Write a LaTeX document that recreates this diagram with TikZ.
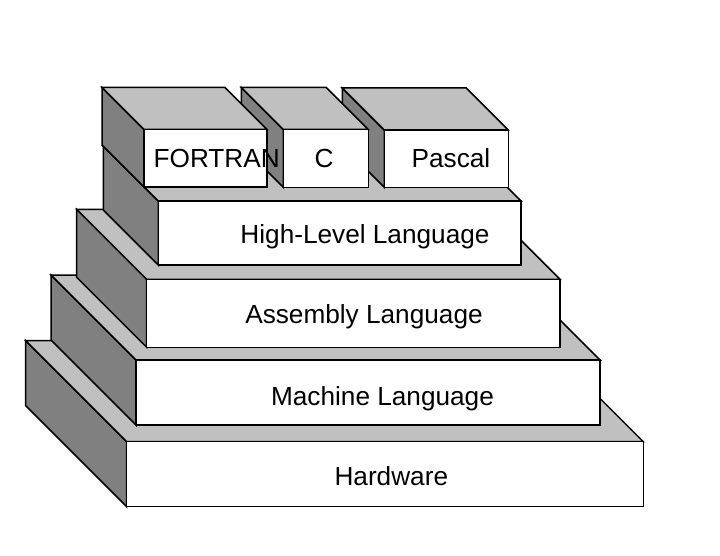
\documentclass[tikz,border=0pt]{standalone}
\usepackage{fontspec}
\setmainfont{Liberation Sans}
\definecolor{sidegray}{RGB}{128,128,128}
\definecolor{topgray}{RGB}{192,192,192}
\tikzset{
  side/.style={fill=sidegray,draw=black},
  lid/.style={fill=topgray,draw=black},
  face/.style={fill=white,draw=black},
  lbl/.style={font=\fontsize{26.2}{30}\selectfont,anchor=base,inner sep=0pt}
}

\begin{document}
\begin{tikzpicture}[x=1pt,y=-1pt,line width=1.5pt]
\useasboundingbox (0,0) rectangle (720,556);
% front face left/right/top/bottom, depth
\foreach \l/\r/\t/\b/\d in {126.7/643.3/441.7/506.7/101, 136/600/360/425/85, 146.7/560/279.3/347.3/70, 158.3/521/201/265/55, 384.3/508.3/130/187.3/42, 283.3/368.3/129.5/187.3/42, 144/267/129.5/187/42}{
  \draw[side] (\l,\t)--(\l-\d,\t-\d)--(\l-\d,\b-\d)--(\l,\b)--cycle;
  \draw[lid] (\l,\t)--(\l-\d,\t-\d)--(\r-\d,\t-\d)--(\r,\t)--cycle;
  \draw[face] (\l,\t) rectangle (\r,\b);
}
\node[lbl] (fortran) at (216.7,167.3) {FORTRAN};
\node[lbl] (c) at (324,167.3) {C};
\node[lbl] (pascal) at (451,167.3) {Pascal};
\node[lbl] (high) at (365,243.3) {High-Level Language};
\node[lbl] (asm) at (364,323.3) {Assembly Language};
\node[lbl] (machine) at (382.5,405) {Machine Language};
\node[lbl] (hw) at (391.3,485) {Hardware};
\end{tikzpicture}
\end{document}
